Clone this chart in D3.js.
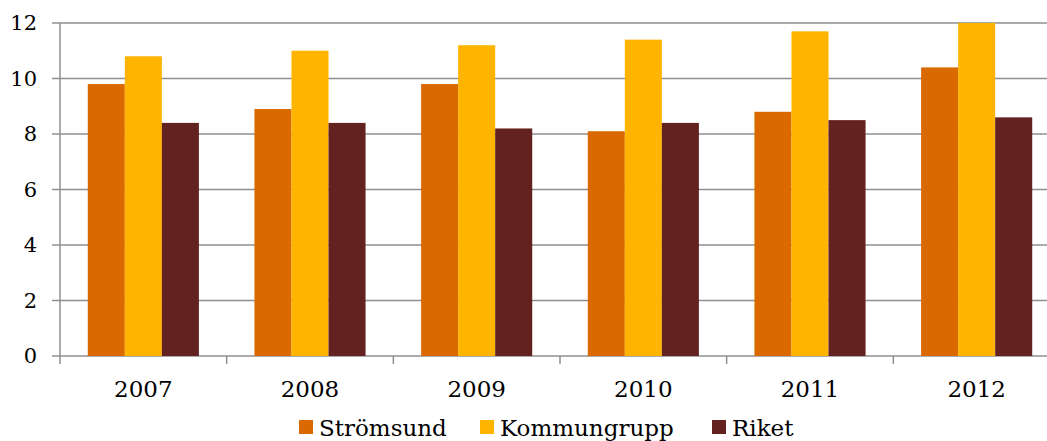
<!DOCTYPE html>
<html>
<head>
<meta charset="utf-8">
<script src="https://cdn.jsdelivr.net/npm/d3@7"></script>
<style>
    body { margin: 0; background: #fff; }
    svg { display: block; }
    text { font-family: Georgia, "DejaVu Serif", serif; fill: #000; }
    .grid line { stroke: #8f8f8f; stroke-width: 1.5; }
</style>
</head>
<body>
<script>
var years = ["2007", "2008", "2009", "2010", "2011", "2012"],
    seriesNames = ["Strömsund", "Kommungrupp", "Riket"],
    stromsund = [9.8, 8.9, 9.8, 8.1, 8.8, 10.4],
    kommungrupp = [10.8, 11.0, 11.2, 11.4, 11.7, 12.0],
    riket = [8.4, 8.4, 8.2, 8.4, 8.5, 8.6],
    yTicks = [0, 2, 4, 6, 8, 10, 12];

var colors = ["#da6900", "#ffb400", "#632120"];

var _width = 1047,
    _height = 441,
    _margins = {top: 23, left: 60, right: -13, bottom: 85};

var values = [stromsund, kommungrupp, riket];

var svg = d3.select("body").append("svg")
    .attr("width", _width)
    .attr("height", _height);

var x = d3.scaleBand()
    .domain(years)
    .range([_margins.left, _width - _margins.right])
    .paddingInner(1 / 3)
    .paddingOuter(1 / 6);

var band = d3.scaleBand()
    .domain(d3.range(seriesNames.length))
    .range([0, x.bandwidth()]);

var y = d3.scaleLinear()
    .domain([0, 12])
    .range([_height - _margins.bottom, _margins.top]);

// grid lines + y labels
var grid = svg.append("g").attr("class", "grid");
grid.selectAll("line")
    .data(yTicks)
    .enter()
    .append("line")
    .attr("x1", _margins.left - 8)
    .attr("x2", _width - _margins.right)
    .attr("y1", function(d) { return y(d); })
    .attr("y2", function(d) { return y(d); });

svg.append("g").selectAll("text")
    .data(yTicks)
    .enter()
    .append("text")
    .attr("x", 37)
    .attr("y", function(d) { return y(d); })
    .attr("dy", "0.35em")
    .attr("text-anchor", "end")
    .style("font-size", "21px")
    .text(function(d) { return d; });

// bars
var groups = svg.append("g").selectAll("g")
    .data(years)
    .enter()
    .append("g")
    .attr("transform", function(d) { return "translate(" + x(d) + ",0)"; });

groups.selectAll("rect")
    .data(function(d, i) {
        return values.map(function(s, k) { return {k: k, v: s[i]}; });
    })
    .enter()
    .append("rect")
    .attr("x", function(d) { return band(d.k); })
    .attr("width", band.bandwidth())
    .attr("y", function(d) { return y(d.v); })
    .attr("height", function(d) { return y(0) - y(d.v); })
    .style("fill", function(d) { return colors[d.k]; });

// axis line and category ticks
var step = x.step();
var axisG = svg.append("g").attr("class", "grid");
axisG.append("line")
    .attr("x1", _margins.left)
    .attr("x2", _margins.left)
    .attr("y1", y(12))
    .attr("y2", y(0) + 8);
axisG.selectAll("line.tick")
    .data(years)
    .enter()
    .append("line")
    .attr("class", "tick")
    .attr("x1", function(d) { return x(d) - step * x.paddingInner() / 2 + step; })
    .attr("x2", function(d) { return x(d) - step * x.paddingInner() / 2 + step; })
    .attr("y1", y(0))
    .attr("y2", y(0) + 8);

svg.append("g").selectAll("text")
    .data(years)
    .enter()
    .append("text")
    .attr("x", function(d) { return x(d) + x.bandwidth() / 2; })
    .attr("y", 397)
    .attr("text-anchor", "middle")
    .style("font-size", "23px")
    .text(function(d) { return d; });

// legend
var legendX = [299, 480, 712];
var legend = svg.append("g").selectAll("g")
    .data(seriesNames)
    .enter()
    .append("g")
    .attr("transform", function(d, i) { return "translate(" + legendX[i] + ",420)"; });

legend.append("rect")
    .attr("width", 14)
    .attr("height", 14)
    .style("fill", function(d, i) { return colors[i]; });

legend.append("text")
    .attr("x", 20)
    .attr("y", 16)
    .style("font-size", "23px")
    .text(function(d) { return d; });
</script>
</body>
</html>
